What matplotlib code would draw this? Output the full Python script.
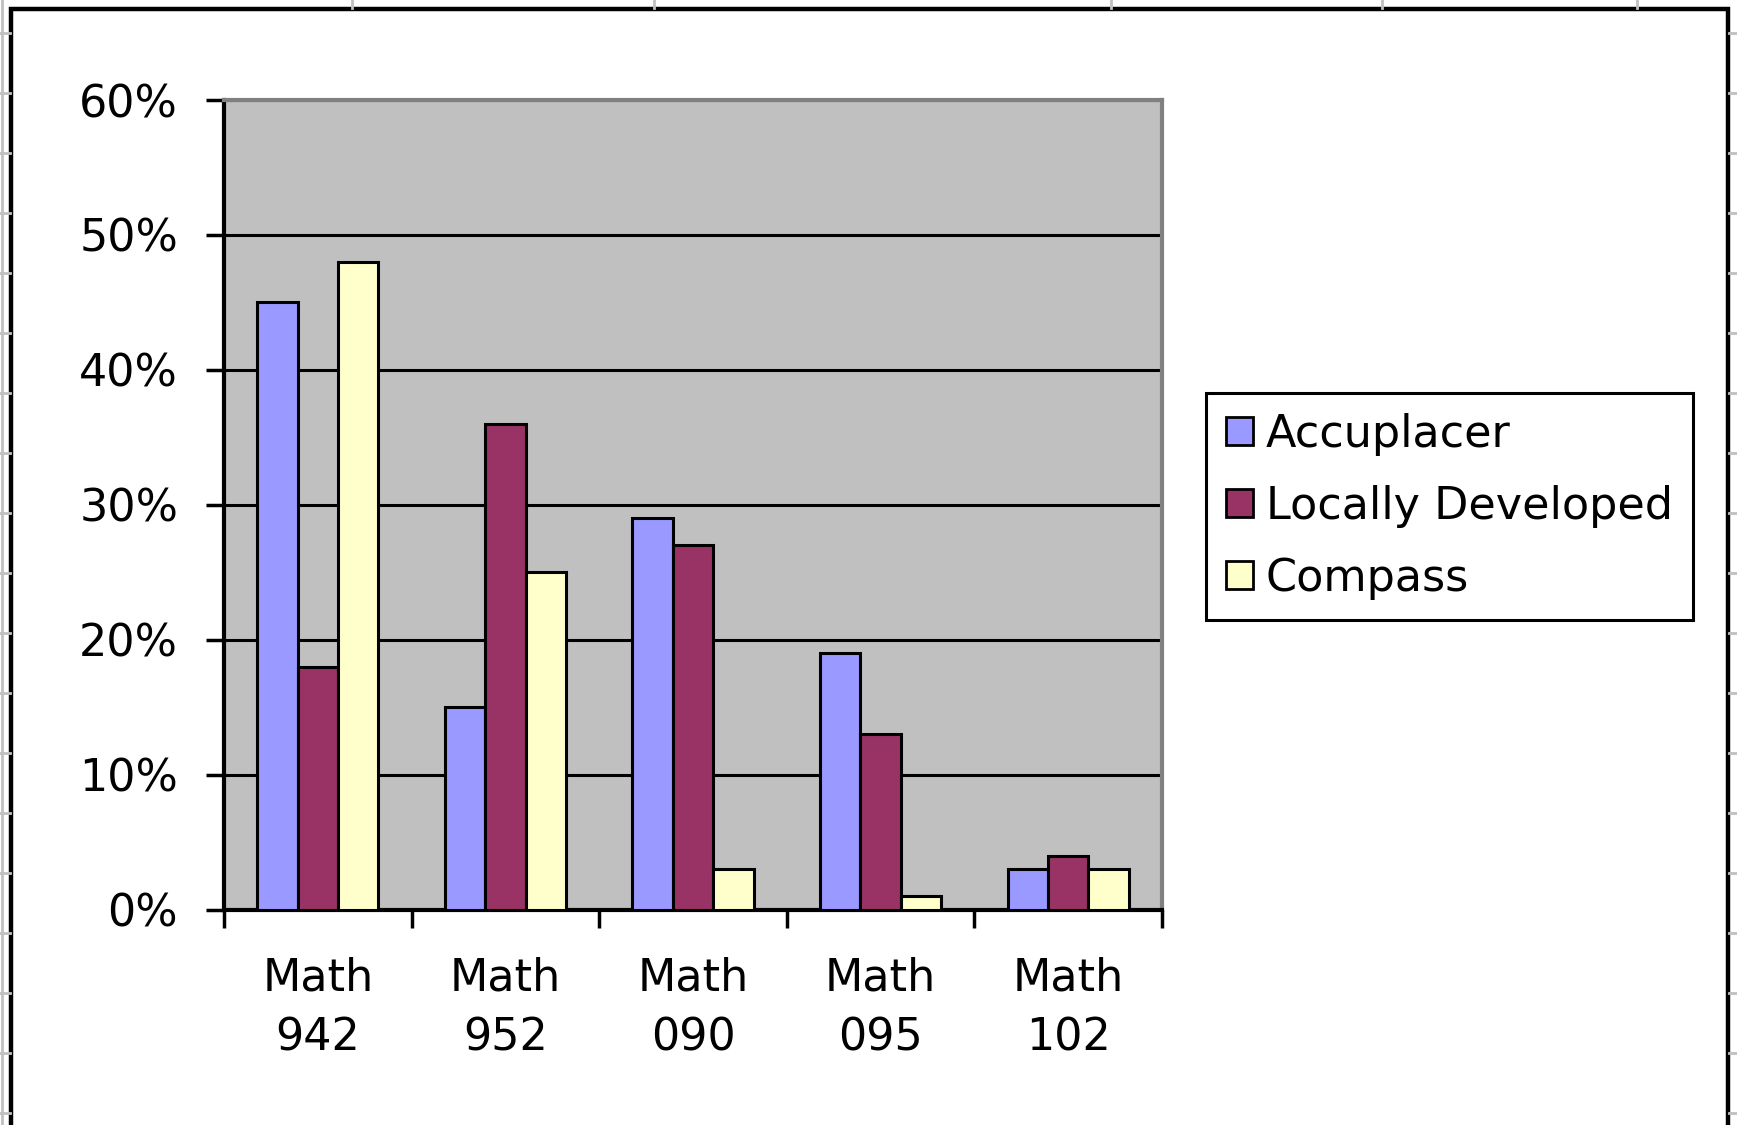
import matplotlib.pyplot as plt
import numpy as np
from matplotlib.ticker import PercentFormatter
from matplotlib.patches import Rectangle
from matplotlib.lines import Line2D

courses = ["Math\n942", "Math\n952", "Math\n090", "Math\n095", "Math\n102"]
series = ["Accuplacer", "Locally Developed", "Compass"]
accuplacer = [45, 15, 29, 19, 3]
locally = [18, 36, 27, 13, 4]
compass = [48, 25, 3, 1, 3]
colors = ["#9999FF", "#993366", "#FFFFCC"]

W, H = 1737, 1125
fig = plt.figure(figsize=(W / 100, H / 100), dpi=100)
plt.rcParams['font.family'] = ['DejaVu Sans']

# spreadsheet cell lines peeking out around the chart object
for gx in [352, 654, 1111, 1382, 1637]:
    fig.lines.append(Line2D([gx / W, gx / W], [1, 1 - 8 / H], transform=fig.transFigure,
                            color="#C0C0C0", linewidth=2))
for gy in range(33, H, 60):
    fig.lines.append(Line2D([0, 10 / W], [1 - gy / H, 1 - gy / H], transform=fig.transFigure,
                            color="#C0C0C0", linewidth=2))
    fig.lines.append(Line2D([1729 / W, 1], [1 - gy / H, 1 - gy / H], transform=fig.transFigure,
                            color="#C0C0C0", linewidth=2))
fig.lines.append(Line2D([2 / W, 2 / W], [0, 1], transform=fig.transFigure,
                        color="#C0C0C0", linewidth=2))

# chart border like the Excel chart object
fig.patches.append(Rectangle((11 / W, -0.1), (1728 - 11) / W, 1.1 - 9 / H,
                             transform=fig.transFigure, fill=False,
                             edgecolor="black", linewidth=3.2))

ax = fig.add_axes([224 / W, 1 - 909.5 / H, (1162 - 224) / W, (909.5 - 100) / H])
ax.set_facecolor("#C0C0C0")

x = np.arange(len(courses))
bw = 0.215
for i, (vals, name) in enumerate(zip([accuplacer, locally, compass], series)):
    ax.bar(x + (i - 1) * bw, np.array(vals) / 100, bw, color=colors[i],
           edgecolor="black", linewidth=2.2, label=name, zorder=3)

ax.set_xlim(-0.5, len(courses) - 0.5)
ax.set_ylim(0, 0.6)
ax.set_yticks(np.arange(0, 0.61, 0.1))
ax.yaxis.set_major_formatter(PercentFormatter(1.0, decimals=0))
ax.yaxis.grid(True, color="black", linewidth=2.2, zorder=1)
ax.set_axisbelow(True)

ax.set_xticks(np.arange(-0.5, len(courses), 1.0))
ax.set_xticklabels([])
ax.set_xticks(x, minor=True)
ax.set_xticklabels(courses, minor=True, fontsize=32, linespacing=1.5)
ax.tick_params(axis="x", which="minor", length=0, pad=34)
ax.tick_params(axis="x", which="major", direction="out", length=13, width=2.5)
ax.tick_params(axis="y", direction="out", length=13, width=2.5, pad=20, labelsize=32)

for s in ["left", "bottom"]:
    ax.spines[s].set_color("black")
    ax.spines[s].set_linewidth(3)
for s in ["top", "right"]:
    ax.spines[s].set_color("#808080")
    ax.spines[s].set_linewidth(3)

leg = ax.legend(loc="upper left", bbox_to_anchor=(1206 / W, 1 - 393 / H),
                bbox_transform=fig.transFigure, borderaxespad=0, fontsize=32,
                handlelength=0.6, handleheight=0.6, handletextpad=0.3,
                labelspacing=0.65, borderpad=0.45, fancybox=False,
                edgecolor="black", framealpha=1)
leg.get_frame().set_linewidth(2.2)
for h in leg.legend_handles:
    h.set_linewidth(2)

fig.savefig("out.png", dpi=100)
